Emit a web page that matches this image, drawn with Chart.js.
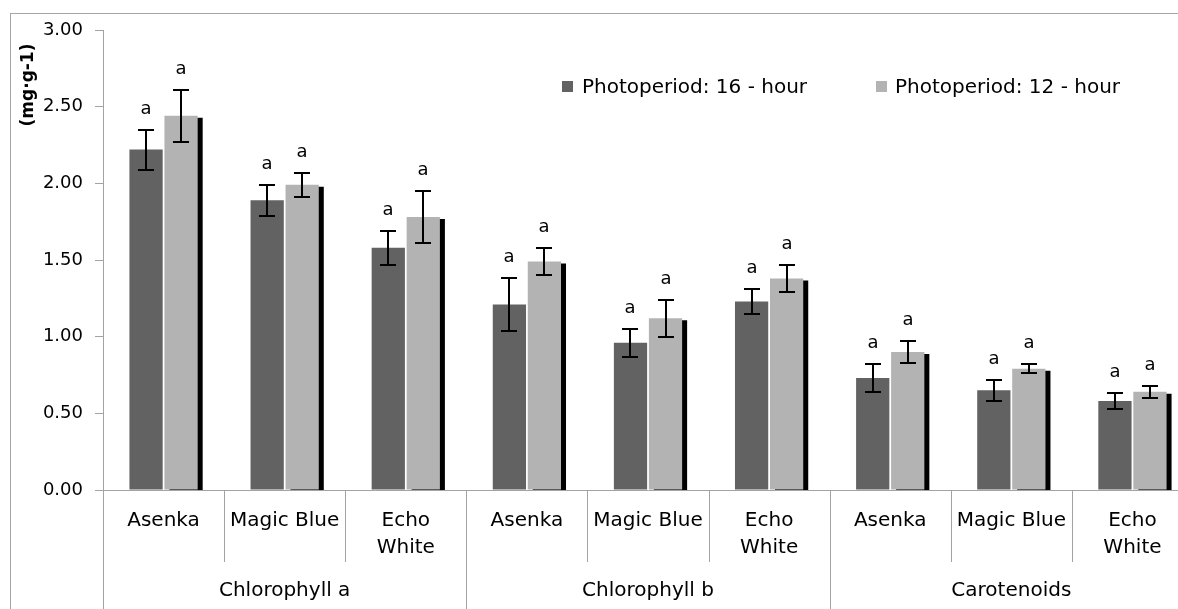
<!DOCTYPE html>
<html><head><meta charset="utf-8">
<script src="https://cdn.jsdelivr.net/npm/chart.js@4"></script>
<style>
html,body{margin:0;padding:0;overflow:hidden;background:#fff;width:1178px;height:609px;}
#frame{position:absolute;left:10px;top:13px;width:1400px;height:800px;border:1px solid #a6a6a6;box-sizing:border-box;}
#wrap{position:absolute;left:0;top:0;width:1210px;height:609px;}
.lg{position:absolute;font-family:'DejaVu Sans';font-size:20px;line-height:22px;color:#000;white-space:nowrap;}
.sw{position:absolute;width:11px;height:11px;}
</style></head><body>
<div id="frame"></div>
<div id="wrap"><canvas id="c"></canvas></div>
<div id="legend"></div>
<script>
// ---- data ----
const categories = [['Asenka'], ['Magic Blue'], ['Echo', 'White'],
                    ['Asenka'], ['Magic Blue'], ['Echo', 'White'],
                    ['Asenka'], ['Magic Blue'], ['Echo', 'White']];
const groups = ['Chlorophyll a', 'Chlorophyll b', 'Carotenoids'];
const seriesNames = ['Photoperiod: 16 - hour', 'Photoperiod: 12 - hour'];
const photo16 = [2.22, 1.89, 1.58, 1.21, 0.96, 1.23, 0.73, 0.65, 0.58];
const err16   = [0.13, 0.10, 0.11, 0.17, 0.09, 0.08, 0.09, 0.07, 0.05];
const photo12 = [2.44, 1.99, 1.78, 1.49, 1.12, 1.38, 0.90, 0.79, 0.64];
const err12   = [0.17, 0.08, 0.17, 0.09, 0.12, 0.09, 0.07, 0.03, 0.04];
const letters16 = ['a', 'a', 'a', 'a', 'a', 'a', 'a', 'a', 'a'];
const letters12 = ['a', 'a', 'a', 'a', 'a', 'a', 'a', 'a', 'a'];
const yTitle = '(mg·g-1)';

const DARK = '#626262', LIGHT = '#b3b3b3', GRAY = '#a3a3a3';
const FONT = 'DejaVu Sans';

// ---- legend (HTML) ----
const lgPos = [[562, 582], [876, 895]];
const lgCol = [DARK, LIGHT];
const lgEl = document.getElementById('legend');
seriesNames.forEach((n, i) => {
  const s = document.createElement('div');
  s.className = 'sw'; s.style.left = lgPos[i][0] + 'px'; s.style.top = '81px'; s.style.background = lgCol[i];
  const t = document.createElement('div');
  t.className = 'lg'; t.style.left = lgPos[i][1] + 'px'; t.style.top = '75px'; t.textContent = n;
  lgEl.appendChild(s); lgEl.appendChild(t);
});

// ---- plugins ----
const shadowPlugin = {
  id: 'shadow',
  beforeDatasetDraw(chart, args) {
    if (args.index === 1) {
      const c = chart.ctx; c.save();
      c.shadowColor = '#000'; c.shadowOffsetX = 5; c.shadowOffsetY = 2; c.shadowBlur = 0;
    }
  },
  afterDatasetDraw(chart, args) { if (args.index === 1) chart.ctx.restore(); }
};

const errPlugin = {
  id: 'errbars',
  afterDatasetsDraw(chart) {
    const ctx = chart.ctx, y = chart.scales.y;
    [[0, photo16, err16, letters16], [1, photo12, err12, letters12]].forEach(([di, vals, errs, lets]) => {
      const meta = chart.getDatasetMeta(di);
      meta.data.forEach((bar, i) => {
        const x = Math.round(bar.x);
        const top = Math.round(y.getPixelForValue(vals[i] + errs[i]));
        const bot = Math.round(y.getPixelForValue(vals[i] - errs[i]));
        ctx.save();
        ctx.strokeStyle = '#000'; ctx.lineWidth = 2;
        ctx.beginPath();
        ctx.moveTo(x, top); ctx.lineTo(x, bot);
        ctx.moveTo(x - 8, top); ctx.lineTo(x + 8, top);
        ctx.moveTo(x - 8, bot); ctx.lineTo(x + 8, bot);
        ctx.stroke();
        ctx.font = '18px "' + FONT + '"';
        ctx.textAlign = 'center'; ctx.textBaseline = 'middle'; ctx.fillStyle = '#000';
        ctx.fillText(lets[i], x, top - 21);
        ctx.restore();
      });
    });
  }
};

const sepPlugin = {
  id: 'separators',
  afterDraw(chart) {
    const ctx = chart.ctx, xs = chart.scales.x, ca = chart.chartArea;
    const sp = xs.getPixelForValue(1) - xs.getPixelForValue(0);
    ctx.save();
    ctx.strokeStyle = GRAY; ctx.lineWidth = 1;
    for (let i = 0; i <= categories.length; i++) {
      const bx = (i < categories.length ? xs.getPixelForValue(i) - sp / 2 : xs.getPixelForValue(i - 1) + sp / 2);
      const px = Math.round(bx) + 0.5;
      const end = (i % 3 === 0) ? chart.height : xs.bottom - 1;
      ctx.beginPath(); ctx.moveTo(px, ca.bottom); ctx.lineTo(px, end); ctx.stroke();
    }
    // y title
    ctx.translate(29, 85); ctx.rotate(-Math.PI / 2);
    ctx.font = 'bold 17px "' + FONT + '"';
    ctx.fillStyle = '#000'; ctx.textAlign = 'center'; ctx.textBaseline = 'middle';
    ctx.fillText(yTitle, 0, 0);
    ctx.restore();
  }
};

Chart.defaults.font.family = FONT;
Chart.defaults.color = '#000';

new Chart(document.getElementById('c'), {
  type: 'bar',
  data: {
    labels: categories,
    datasets: [
      { label: seriesNames[0], data: photo16, backgroundColor: DARK, borderWidth: 0,
        categoryPercentage: 0.578, barPercentage: 0.95 },
      { label: seriesNames[1], data: photo12, backgroundColor: LIGHT, borderWidth: 0,
        categoryPercentage: 0.578, barPercentage: 0.95, clip: 0 }
    ]
  },
  options: {
    responsive: true,
    maintainAspectRatio: false,
    animation: false,
    events: [],
    layout: { padding: { left: 0, top: 30, right: 17, bottom: 0 } },
    plugins: { legend: { display: false }, tooltip: { enabled: false } },
    scales: {
      x: {
        type: 'category',
        position: 'bottom',
        weight: 0,
        grid: { display: false, drawTicks: false },
        border: { display: true, color: GRAY, width: 1 },
        ticks: { font: { size: 20, lineHeight: 1.35 }, padding: 17, maxRotation: 0, autoSkip: false, color: '#000' },
        afterFit(s) { s.height = 73; }
      },
      xg: {
        type: 'category',
        position: 'bottom',
        weight: 1,
        labels: groups,
        offset: true,
        grid: { display: false, drawTicks: false },
        border: { display: false },
        ticks: { font: { size: 20 }, padding: 16, maxRotation: 0, autoSkip: false, color: '#000' },
        afterFit(s) { s.height = 46; }
      },
      y: {
        min: 0, max: 3,
        ticks: { stepSize: 0.5, padding: 12, font: { size: 18 }, color: '#000',
                 callback: v => Number(v).toFixed(2) },
        grid: { drawOnChartArea: false, drawTicks: true, tickLength: 8, color: GRAY },
        border: { display: true, color: GRAY, width: 1 },
        afterFit(s) { s.width = 103; }
      }
    }
  },
  plugins: [shadowPlugin, errPlugin, sepPlugin]
});
</script>
</body></html>
